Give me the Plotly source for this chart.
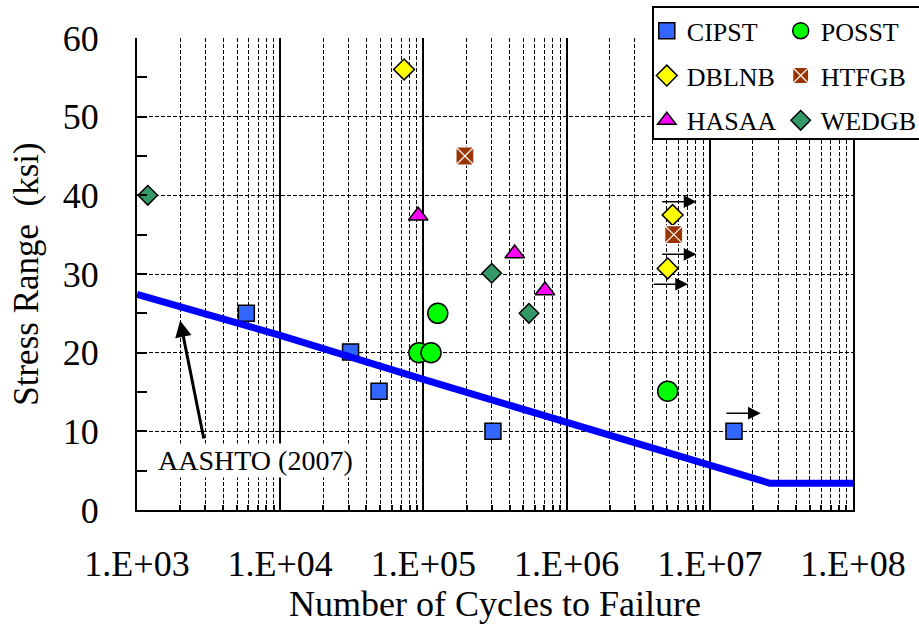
import math
import plotly.graph_objects as go

# Fatigue test results: cycles to failure vs. stress range (ksi)
CIPST_N = [5800, 31000, 49000, 306000, 14760000]
CIPST_S = [25.0, 20.1, 15.1, 10.0, 10.0]

POSST_N = [93000, 113000, 126000, 5080000]
POSST_S = [20.0, 20.0, 25.0, 15.1]

DBLNB_N = [73300, 5500000, 5080000]
DBLNB_S = [56.0, 37.5, 30.7]

HTFGB_N = [195000, 5600000]
HTFGB_S = [45.0, 35.0]

HASAA_N = [92000, 434000, 706000]
HASAA_S = [37.4, 32.6, 27.9]

WEDGB_N = [1190, 300000, 546000]
WEDGB_S = [40.0, 30.1, 25.0]

# AASHTO (2007) design curve
AASHTO_N = [1e3, 1e4, 1e5, 1e6, 1e7, 2.63e7, 1e8]
AASHTO_S = [27.4, 22.2, 16.6, 11.1, 5.5, 3.4, 3.4]

# Run-out (no failure) arrows: start cycles, stress level, length in decades
RUNOUT_N = [4.54e6, 4.54e6, 3.96e6, 1.276e7]
RUNOUT_S = [39.2, 32.5, 28.7, 12.3]
RUNOUT_LEN = 0.25

X_TICKS = [1e3, 1e4, 1e5, 1e6, 1e7, 1e8]
X_TICK_TEXT = ["1.E+03", "1.E+04", "1.E+05", "1.E+06", "1.E+07", "1.E+08"]
Y_TICKS = [0, 10, 20, 30, 40, 50, 60]

FONT = "Liberation Serif"

series = [
    ("CIPST", CIPST_N, CIPST_S, "square", 16, "#3366FF", "black", 1.5, "legend"),
    ("POSST", POSST_N, POSST_S, "circle", 20, "#00FF00", "black", 1.5, "legend2"),
    ("DBLNB", DBLNB_N, DBLNB_S, "diamond", 16, "#FFFF00", "black", 1.5, "legend"),
    ("HTFGB", HTFGB_N, HTFGB_S, "square-x", 18, "#993300", "white", 1.2, "legend2"),
    ("HASAA", HASAA_N, HASAA_S, "triangle-up", 17, "#FF00FF", "black", 1.5, "legend"),
    ("WEDGB", WEDGB_N, WEDGB_S, "diamond", 15, "#339966", "black", 1.5, "legend2"),
]

fig = go.Figure()

for name, n, s, sym, size, color, lcolor, lw, leg in series:
    fig.add_trace(go.Scatter(
        x=n, y=s, mode="markers", name=name,
        legend=leg, legendgroup=name,
        marker=dict(symbol=sym, size=size, color=color,
                    line=dict(color=lcolor, width=lw)),
    ))

fig.add_trace(go.Scatter(
    x=AASHTO_N, y=AASHTO_S, mode="lines", name="AASHTO (2007)",
    showlegend=False, line=dict(color="#0000FF", width=7),
))

# run-out arrows
for n0, s in zip(RUNOUT_N, RUNOUT_S):
    x0 = math.log10(n0)
    fig.add_annotation(
        x=x0 + RUNOUT_LEN, y=s, ax=x0, ay=s,
        xref="x", yref="y", axref="x", ayref="y",
        text="", showarrow=True, arrowhead=2, arrowsize=1.7,
        arrowwidth=1.5, arrowcolor="black",
    )

# AASHTO label with leader arrow
fig.add_annotation(
    x=math.log10(2000), y=24.1, ax=math.log10(2940), ay=8.9,
    xref="x", yref="y", axref="x", ayref="y",
    text="", showarrow=True, arrowhead=2, arrowsize=1.1,
    arrowwidth=3, arrowcolor="black",
)
fig.add_annotation(
    x=math.log10(6700), y=6.3, xref="x", yref="y",
    text="AASHTO (2007)", showarrow=False, bgcolor="white",
    font=dict(family=FONT, size=28, color="black"),
)

# legend frame spanning both legend columns
fig.add_shape(
    type="rect", xref="paper", yref="paper",
    x0=0.7207, x1=1.3, y0=0.786, y1=1.0657,
    line=dict(color="black", width=2), fillcolor="white", layer="above",
)

legend_common = dict(
    xanchor="left", yanchor="top", bgcolor="rgba(0,0,0,0)", borderwidth=0,
    font=dict(family=FONT, size=26, color="black"), tracegroupgap=8,
)

fig.update_layout(
    width=919, height=624,
    margin=dict(l=137, r=66, t=38, b=114, autoexpand=False),
    paper_bgcolor="white", plot_bgcolor="white",
    font=dict(family=FONT, color="black"),
    legend=dict(x=0.712, y=1.065, **legend_common),
    legend2=dict(x=0.899, y=1.065, **legend_common),
    xaxis=dict(
        type="log", range=[3, 8],
        tickvals=X_TICKS, ticktext=X_TICK_TEXT,
        tickfont=dict(family=FONT, size=36, color="black"),
        ticks="inside", ticklen=6, tickwidth=2, tickcolor="black",
        ticklabelstandoff=21,
        showgrid=True, gridcolor="black", gridwidth=1.6,
        showline=True, linecolor="black", linewidth=2,
        minor=dict(
            tickvals=[m * 10 ** k for k in range(3, 8) for m in range(2, 10)],
            ticks="inside", ticklen=5, tickwidth=2, tickcolor="black",
            showgrid=True, gridcolor="black", gridwidth=1.2, griddash="4px,2px",
        ),
        title=dict(text="Number of Cycles to Failure",
                   font=dict(family=FONT, size=36, color="black"), standoff=8),
        zeroline=False,
    ),
    yaxis=dict(
        range=[0, 60], tickvals=Y_TICKS,
        tickfont=dict(family=FONT, size=36, color="black"),
        ticks="inside", ticklen=10, tickwidth=1.5, tickcolor="black",
        ticklabelstandoff=29,
        showgrid=True, gridcolor="black", gridwidth=1.3, griddash="4px,2px",
        showline=True, linecolor="black", linewidth=2, mirror=True,
        minor=dict(dtick=5, ticks="inside", ticklen=10, tickwidth=1.5,
                   tickcolor="black", showgrid=False),
        title=dict(text="Stress Range  (ksi)",
                   font=dict(family=FONT, size=35, color="black"), standoff=14),
        zeroline=False,
    ),
)

fig.write_html("out.html")
